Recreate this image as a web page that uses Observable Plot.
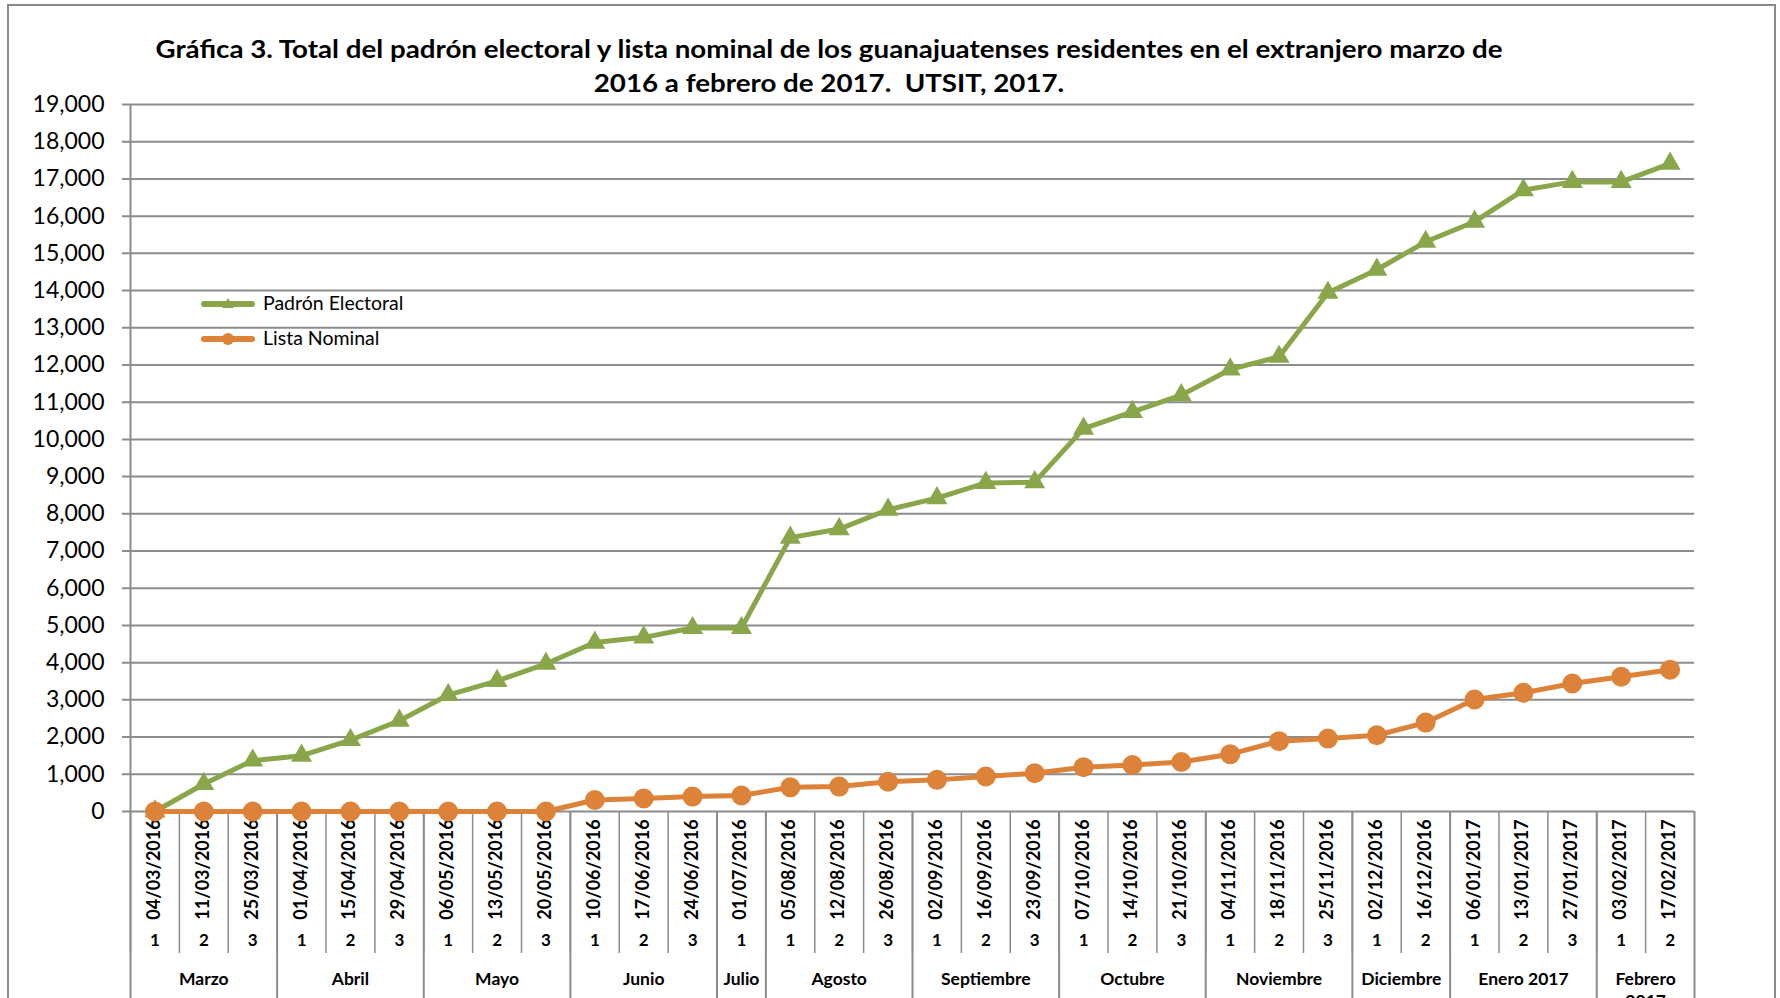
<!DOCTYPE html>
<html>
<head>
<meta charset="utf-8">
<script src="https://cdn.jsdelivr.net/npm/d3@7"></script>
<script src="https://cdn.jsdelivr.net/npm/@observablehq/plot@0.6"></script>
<style>
html, body { margin: 0; padding: 0; background: #fff; overflow: hidden; width: 1780px; height: 998px; }
#frame { position: absolute; left: 7px; top: 4px; width: 1769px; height: 1100px; border: 2px solid #8a8a8a; box-sizing: border-box; pointer-events: none; z-index: 3; }
#chart { position: absolute; left: 0; top: 0; }
#title { position: absolute; left: 0; top: 32px; width: 1658px; text-align: center; font-family: Lato, "Open Sans", sans-serif; font-weight: bold; font-size: 24px; line-height: 34px; white-space: pre; color: #000; z-index: 2; transform: scaleX(1.155); transform-origin: 829px 0; }
.lg-sw { position: absolute; z-index: 2; }
.lg-tx { position: absolute; z-index: 2; font-family: Lato, "Open Sans", sans-serif; font-size: 19.5px; line-height: 20px; color: #000; white-space: nowrap; }
</style>
</head>
<body>
<div id="frame"></div>
<div id="chart"></div>
<div id="title"></div>
<div id="legend"></div>
<script>
// ---------- data ----------
const dates = [
  "04/03/2016","11/03/2016","25/03/2016",
  "01/04/2016","15/04/2016","29/04/2016",
  "06/05/2016","13/05/2016","20/05/2016",
  "10/06/2016","17/06/2016","24/06/2016",
  "01/07/2016",
  "05/08/2016","12/08/2016","26/08/2016",
  "02/09/2016","16/09/2016","23/09/2016",
  "07/10/2016","14/10/2016","21/10/2016",
  "04/11/2016","18/11/2016","25/11/2016",
  "02/12/2016","16/12/2016",
  "06/01/2017","13/01/2017","27/01/2017",
  "03/02/2017","17/02/2017"
];
const weekNumbers = [1,2,3, 1,2,3, 1,2,3, 1,2,3, 1, 1,2,3, 1,2,3, 1,2,3, 1,2,3, 1,2, 1,2,3, 1,2];
const monthLabels = ["Marzo","Abril","Mayo","Junio","Julio","Agosto","Septiembre","Octubre","Noviembre","Diciembre","Enero 2017","Febrero 2017"];
const monthCounts = [3,3,3,3,1,3,3,3,3,2,3,2];
const padronElectoral = [
  0, 740, 1370, 1500, 1920, 2440, 3130, 3510, 3970, 4540, 4680, 4930, 4930,
  7360, 7590, 8110, 8420, 8830, 8850, 10290, 10740, 11190, 11880, 12220,
  13940, 14560, 15310, 15850, 16700, 16920, 16920, 17410
];
const listaNominal = [
  0, 0, 0, 0, 0, 0, 0, 0, 0, 310, 350, 400, 430,
  650, 670, 800, 850, 940, 1030, 1190, 1250, 1330, 1540, 1890,
  1960, 2050, 2390, 3010, 3190, 3440, 3620, 3810
];
const yTicks = [0,1000,2000,3000,4000,5000,6000,7000,8000,9000,10000,11000,12000,13000,14000,15000,16000,17000,18000,19000];
const seriesNames = ["Padrón Electoral", "Lista Nominal"];
const titleLines = ["Gráfica 3. Total del padrón electoral y lista nominal de los guanajuatenses residentes en el extranjero marzo de",
                    "2016 a febrero de 2017.  UTSIT, 2017."];

// ---------- layout ----------
const green = "#89a64b", orange = "#dd8239", grid = "#8c8c8c";
const font = "Lato, 'Open Sans', sans-serif";
const W = 1780, H = 1040, mL = 130, mR = 86, mT = 104, mB = H - 811;
const step = (W - mL - mR) / dates.length;
const frameH = H - mT - mB;
const monthStarts = [];
{ let acc = 0; for (const c of monthCounts) { monthStarts.push(acc); acc += c; } }

const rows = dates.map((d, i) => ({date: d, padron: padronElectoral[i], lista: listaNominal[i], week: weekNumbers[i]}));
const fmt = d3.format(",");

const monthMarks = monthLabels.map((m, k) => Plot.text([m], {
  x: () => dates[monthStarts[k]],
  dx: (monthCounts[k] - 1) * step / 2,
  text: d => d,
  frameAnchor: "bottom",
  dy: 157,
  lineAnchor: "top",
  lineHeight: 1.3,
  lineWidth: (monthCounts[k] * step - 8) / 17.5,
  fontSize: 17.5,
  fontWeight: "bold",
  fill: "#000"
}));

const chart = Plot.plot({
  width: W, height: H,
  marginLeft: mL, marginRight: mR, marginTop: mT, marginBottom: mB,
  style: {fontFamily: font, background: "transparent", overflow: "visible"},
  x: {type: "point", domain: dates, padding: 0.5, round: false, axis: null},
  y: {domain: [0, 19000], axis: null},
  marks: [
    // gridlines + outward ticks
    Plot.ruleY(yTicks, {y: d => d, insetLeft: -8, stroke: grid, strokeWidth: 2}),
    // y tick labels
    Plot.text(yTicks, {y: d => d, text: d => fmt(d), frameAnchor: "left", dx: -26, textAnchor: "end", fontSize: 23, fill: "#000"}),
    // y axis line
    Plot.ruleX([dates[0]], {x: d => d, dx: -step / 2, stroke: grid, strokeWidth: 2}),
    // category separators in table
    Plot.ruleX(dates, {x: d => d, dx: -step / 2, insetTop: frameH, insetBottom: -142, stroke: grid, strokeWidth: 1.5}),
    // month separators
    Plot.ruleX(monthStarts.map(i => dates[i]), {x: d => d, dx: -step / 2, insetTop: frameH, insetBottom: -300, stroke: grid, strokeWidth: 2}),
    Plot.ruleX([dates[dates.length - 1]], {x: d => d, dx: step / 2, insetTop: frameH, insetBottom: -300, stroke: grid, strokeWidth: 2}),
    // date labels
    Plot.text(rows, {x: "date", text: "date", rotate: -90, frameAnchor: "bottom", dx: 5, dy: 58, fontSize: 18, fontWeight: "bold", fill: "#000"}),
    // week numbers
    Plot.text(rows, {x: "date", text: "week", frameAnchor: "bottom", dy: 134, fontSize: 17, fontWeight: "bold", fill: "#000"}),
    ...monthMarks,
    // series
    Plot.line(rows, {x: "date", y: "padron", stroke: green, strokeWidth: 5}),
    Plot.dot(rows, {x: "date", y: "padron", symbol: "triangle", r: 7.8, fill: green, stroke: "none"}),
    Plot.line(rows, {x: "date", y: "lista", stroke: orange, strokeWidth: 5}),
    Plot.dot(rows, {x: "date", y: "lista", symbol: "circle", r: 10, fill: orange, stroke: "none"})
  ]
});
document.getElementById("chart").appendChild(chart);

document.getElementById("title").textContent = titleLines.join("\n");

// legend
const legend = document.getElementById("legend");
const legendItems = [
  {name: seriesNames[0], color: green, marker: "triangle", cy: 304},
  {name: seriesNames[1], color: orange, marker: "circle", cy: 339}
];
for (const it of legendItems) {
  const sw = document.createElement("div");
  sw.className = "lg-sw";
  sw.style.left = "196px"; sw.style.top = (it.cy - 10) + "px";
  const mk = it.marker === "triangle"
    ? `<path d="M32,4 L38,14 L26,14 Z" fill="${it.color}"/>`
    : `<circle cx="32" cy="10" r="6" fill="${it.color}"/>`;
  sw.innerHTML = `<svg width="64" height="20"><line x1="8" y1="10" x2="56" y2="10" stroke="${it.color}" stroke-width="6" stroke-linecap="round"/>${mk}</svg>`;
  legend.appendChild(sw);
  const tx = document.createElement("div");
  tx.className = "lg-tx";
  tx.style.left = "263px"; tx.style.top = (it.cy - 11) + "px";
  tx.textContent = it.name;
  legend.appendChild(tx);
}
</script>
</body>
</html>
